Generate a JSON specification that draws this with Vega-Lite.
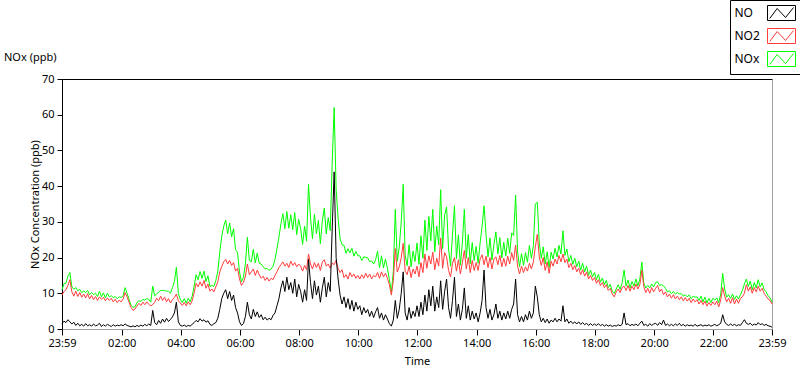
{
  "$schema": "https://vega.github.io/schema/vega-lite/v6.json",
  "width": 710,
  "height": 250,
  "autosize": {"type": "none"},
  "padding": {"left": 62, "top": 79, "right": 28, "bottom": 40},
  "background": "white",
  "config": {
    "font": "Noto Sans",
    "view": {"stroke": "black", "strokeWidth": 1}
  },
  "title": {
    "text": "NOx (ppb)",
    "anchor": "start",
    "frame": "group",
    "dx": -58,
    "dy": 63,
    "offset": 0,
    "fontSize": 11,
    "fontWeight": "normal",
    "color": "black",
    "font": "Noto Sans"
  },
  "data": {
    "values": [
{"t":0,"NO":1.5,"NO2":9.5,"NOx":11.0},{"t":4,"NO":2.2,"NO2":10.5,"NOx":12.7},{"t":8,"NO":1.8,"NO2":11.0,"NOx":12.8},{"t":12,"NO":2.6,"NO2":12.2,"NOx":14.8},{"t":16,"NO":2.0,"NO2":13.8,"NOx":15.8},{"t":20,"NO":1.4,"NO2":10.4,"NOx":11.8},{"t":24,"NO":1.9,"NO2":9.2,"NOx":11.1},{"t":28,"NO":1.0,"NO2":10.6,"NOx":11.6},{"t":32,"NO":1.6,"NO2":9.1,"NOx":10.7},{"t":36,"NO":0.9,"NO2":10.2,"NOx":11.1},{"t":40,"NO":1.3,"NO2":8.9,"NOx":10.2},{"t":44,"NO":0.8,"NO2":9.8,"NOx":10.6},{"t":48,"NO":1.5,"NO2":8.7,"NOx":10.2},{"t":52,"NO":0.9,"NO2":9.9,"NOx":10.8},{"t":56,"NO":1.2,"NO2":8.4,"NOx":9.6},{"t":60,"NO":0.8,"NO2":9.4,"NOx":10.2},{"t":64,"NO":1.4,"NO2":8.2,"NOx":9.6},{"t":68,"NO":0.9,"NO2":9.1,"NOx":10.0},{"t":72,"NO":1.1,"NO2":8.0,"NOx":9.1},{"t":76,"NO":1.6,"NO2":9.0,"NOx":10.6},{"t":80,"NO":0.7,"NO2":8.3,"NOx":9.0},{"t":84,"NO":1.2,"NO2":8.9,"NOx":10.1},{"t":88,"NO":0.8,"NO2":7.9,"NOx":8.7},{"t":92,"NO":1.3,"NO2":8.7,"NOx":10.0},{"t":96,"NO":1.0,"NO2":8.0,"NOx":9.0},{"t":100,"NO":0.7,"NO2":8.6,"NOx":9.3},{"t":104,"NO":1.2,"NO2":7.6,"NOx":8.8},{"t":108,"NO":0.8,"NO2":8.3,"NOx":9.1},{"t":112,"NO":1.1,"NO2":7.4,"NOx":8.5},{"t":116,"NO":0.9,"NO2":8.1,"NOx":9.0},{"t":120,"NO":1.2,"NO2":7.6,"NOx":8.8},
{"t":124,"NO":0.9,"NO2":8.4,"NOx":9.3},{"t":128,"NO":1.4,"NO2":10.2,"NOx":11.6},{"t":132,"NO":1.0,"NO2":9.0,"NOx":10.0},{"t":136,"NO":0.8,"NO2":7.5,"NOx":8.3},{"t":140,"NO":0.6,"NO2":6.0,"NOx":6.6},{"t":144,"NO":0.9,"NO2":5.2,"NOx":6.1},{"t":148,"NO":0.6,"NO2":5.6,"NOx":6.2},{"t":152,"NO":1.0,"NO2":6.4,"NOx":7.4},{"t":156,"NO":0.7,"NO2":7.2,"NOx":7.9},{"t":160,"NO":1.1,"NO2":6.6,"NOx":7.7},{"t":164,"NO":0.8,"NO2":7.5,"NOx":8.3},{"t":168,"NO":1.3,"NO2":6.8,"NOx":8.1},{"t":172,"NO":0.9,"NO2":7.6,"NOx":8.5},{"t":176,"NO":1.4,"NO2":6.9,"NOx":8.3},{"t":180,"NO":1.0,"NO2":6.5,"NOx":7.5},{"t":184,"NO":5.2,"NO2":6.8,"NOx":12.0},{"t":188,"NO":1.8,"NO2":7.5,"NOx":9.3},{"t":192,"NO":1.2,"NO2":8.6,"NOx":9.8},{"t":196,"NO":2.4,"NO2":7.9,"NOx":10.3},{"t":200,"NO":1.6,"NO2":9.2,"NOx":10.8},{"t":204,"NO":2.8,"NO2":8.0,"NOx":10.8},{"t":208,"NO":1.9,"NO2":8.9,"NOx":10.8},{"t":212,"NO":3.0,"NO2":7.6,"NOx":10.6},{"t":216,"NO":2.1,"NO2":8.5,"NOx":10.6},{"t":220,"NO":2.7,"NO2":7.3,"NOx":10.0},{"t":224,"NO":3.4,"NO2":8.2,"NOx":11.6},{"t":228,"NO":4.5,"NO2":8.8,"NOx":13.3},{"t":232,"NO":7.5,"NO2":9.8,"NOx":17.3},{"t":236,"NO":2.0,"NO2":7.9,"NOx":9.9},{"t":240,"NO":1.0,"NO2":7.3,"NOx":8.3},
{"t":244,"NO":0.8,"NO2":6.6,"NOx":7.4},{"t":248,"NO":1.1,"NO2":7.4,"NOx":8.5},{"t":252,"NO":0.7,"NO2":6.5,"NOx":7.2},{"t":256,"NO":1.0,"NO2":7.6,"NOx":8.6},{"t":260,"NO":0.8,"NO2":6.8,"NOx":7.6},{"t":264,"NO":1.3,"NO2":7.9,"NOx":9.2},{"t":268,"NO":1.8,"NO2":10.2,"NOx":12.0},{"t":272,"NO":2.4,"NO2":12.8,"NOx":15.2},{"t":276,"NO":2.0,"NO2":11.8,"NOx":13.8},{"t":280,"NO":2.9,"NO2":13.2,"NOx":16.1},{"t":284,"NO":2.2,"NO2":12.0,"NOx":14.2},{"t":288,"NO":2.6,"NO2":13.6,"NOx":16.2},{"t":292,"NO":1.9,"NO2":11.4,"NOx":13.3},{"t":296,"NO":2.3,"NO2":12.6,"NOx":14.9},{"t":300,"NO":1.3,"NO2":10.6,"NOx":11.9},{"t":304,"NO":1.0,"NO2":11.2,"NOx":12.2},{"t":308,"NO":1.5,"NO2":10.4,"NOx":11.9},{"t":312,"NO":1.8,"NO2":11.8,"NOx":13.6},{"t":316,"NO":3.0,"NO2":13.2,"NOx":16.2},{"t":320,"NO":5.5,"NO2":16.0,"NOx":21.5},{"t":324,"NO":8.5,"NO2":17.5,"NOx":26.0},{"t":328,"NO":10.0,"NO2":18.8,"NOx":28.8},{"t":332,"NO":11.0,"NO2":19.5,"NOx":30.5},{"t":336,"NO":8.5,"NO2":18.2,"NOx":26.7},{"t":340,"NO":10.5,"NO2":19.2,"NOx":29.7},{"t":344,"NO":8.0,"NO2":17.8,"NOx":25.8},{"t":348,"NO":9.5,"NO2":18.6,"NOx":28.1},{"t":352,"NO":6.0,"NO2":16.2,"NOx":22.2},{"t":356,"NO":4.5,"NO2":17.0,"NOx":21.5},{"t":360,"NO":2.0,"NO2":14.0,"NOx":16.0},
{"t":364,"NO":1.0,"NO2":12.2,"NOx":13.2},{"t":368,"NO":1.5,"NO2":13.0,"NOx":14.5},{"t":372,"NO":3.5,"NO2":14.8,"NOx":18.3},{"t":376,"NO":7.5,"NO2":18.2,"NOx":25.7},{"t":380,"NO":4.0,"NO2":15.2,"NOx":19.2},{"t":384,"NO":2.8,"NO2":16.0,"NOx":18.8},{"t":388,"NO":5.5,"NO2":16.8,"NOx":22.3},{"t":392,"NO":3.5,"NO2":15.0,"NOx":18.5},{"t":396,"NO":4.8,"NO2":16.5,"NOx":21.3},{"t":400,"NO":3.2,"NO2":15.2,"NOx":18.4},{"t":404,"NO":4.0,"NO2":14.2,"NOx":18.2},{"t":408,"NO":2.6,"NO2":14.8,"NOx":17.4},{"t":412,"NO":3.3,"NO2":13.6,"NOx":16.9},{"t":416,"NO":2.5,"NO2":14.4,"NOx":16.9},{"t":420,"NO":3.0,"NO2":13.4,"NOx":16.4},{"t":424,"NO":2.6,"NO2":14.2,"NOx":16.8},{"t":428,"NO":3.8,"NO2":13.8,"NOx":17.6},{"t":432,"NO":4.5,"NO2":15.0,"NOx":19.5},{"t":436,"NO":6.5,"NO2":16.0,"NOx":22.5},{"t":440,"NO":8.5,"NO2":17.2,"NOx":25.7},{"t":444,"NO":11.5,"NO2":18.0,"NOx":29.5},{"t":448,"NO":13.5,"NO2":18.8,"NOx":32.3},{"t":452,"NO":10.5,"NO2":17.6,"NOx":28.1},{"t":456,"NO":14.5,"NO2":18.4,"NOx":32.9},{"t":460,"NO":11.0,"NO2":17.2,"NOx":28.2},{"t":464,"NO":13.0,"NO2":19.0,"NOx":32.0},{"t":468,"NO":10.0,"NO2":17.8,"NOx":27.8},{"t":472,"NO":14.0,"NO2":18.6,"NOx":32.6},{"t":476,"NO":9.0,"NO2":17.4,"NOx":26.4},{"t":480,"NO":12.5,"NO2":18.2,"NOx":30.7},
{"t":484,"NO":10.5,"NO2":17.6,"NOx":28.1},{"t":488,"NO":7.5,"NO2":16.2,"NOx":23.7},{"t":492,"NO":11.0,"NO2":17.8,"NOx":28.8},{"t":496,"NO":8.0,"NO2":16.6,"NOx":24.6},{"t":500,"NO":19.5,"NO2":21.0,"NOx":40.5},{"t":504,"NO":13.0,"NO2":18.2,"NOx":31.2},{"t":508,"NO":8.5,"NO2":16.8,"NOx":25.3},{"t":512,"NO":13.5,"NO2":18.6,"NOx":32.1},{"t":516,"NO":9.5,"NO2":17.2,"NOx":26.7},{"t":520,"NO":12.0,"NO2":18.4,"NOx":30.4},{"t":524,"NO":7.5,"NO2":16.4,"NOx":23.9},{"t":528,"NO":11.5,"NO2":18.8,"NOx":30.3},{"t":532,"NO":14.5,"NO2":19.4,"NOx":33.9},{"t":536,"NO":9.0,"NO2":17.6,"NOx":26.6},{"t":540,"NO":13.0,"NO2":18.2,"NOx":31.2},{"t":544,"NO":10.5,"NO2":17.0,"NOx":27.5},{"t":548,"NO":28.0,"NO2":18.5,"NOx":46.5},{"t":552,"NO":44.0,"NO2":18.0,"NOx":62.0},{"t":556,"NO":20.0,"NO2":19.2,"NOx":39.2},{"t":560,"NO":14.0,"NO2":17.0,"NOx":31.0},{"t":564,"NO":9.5,"NO2":15.8,"NOx":25.3},{"t":568,"NO":7.0,"NO2":16.6,"NOx":23.6},{"t":572,"NO":9.0,"NO2":14.4,"NOx":23.4},{"t":576,"NO":6.0,"NO2":15.2,"NOx":21.2},{"t":580,"NO":8.5,"NO2":14.0,"NOx":22.5},{"t":584,"NO":5.5,"NO2":15.8,"NOx":21.3},{"t":588,"NO":8.0,"NO2":14.6,"NOx":22.6},{"t":592,"NO":5.0,"NO2":15.4,"NOx":20.4},{"t":596,"NO":7.5,"NO2":14.2,"NOx":21.7},{"t":600,"NO":5.5,"NO2":15.0,"NOx":20.5},
{"t":604,"NO":6.5,"NO2":14.0,"NOx":20.5},{"t":608,"NO":4.0,"NO2":15.2,"NOx":19.2},{"t":612,"NO":6.0,"NO2":14.2,"NOx":20.2},{"t":616,"NO":4.5,"NO2":15.6,"NOx":20.1},{"t":620,"NO":5.5,"NO2":14.4,"NOx":19.9},{"t":624,"NO":3.5,"NO2":15.4,"NOx":18.9},{"t":628,"NO":5.0,"NO2":14.0,"NOx":19.0},{"t":632,"NO":3.2,"NO2":15.0,"NOx":18.2},{"t":636,"NO":4.8,"NO2":14.6,"NOx":19.4},{"t":640,"NO":6.0,"NO2":15.8,"NOx":21.8},{"t":644,"NO":3.0,"NO2":14.2,"NOx":17.2},{"t":648,"NO":4.5,"NO2":16.0,"NOx":20.5},{"t":652,"NO":2.5,"NO2":14.6,"NOx":17.1},{"t":656,"NO":4.0,"NO2":15.6,"NOx":19.6},{"t":660,"NO":2.8,"NO2":14.2,"NOx":17.0},{"t":664,"NO":1.5,"NO2":12.4,"NOx":13.9},{"t":668,"NO":0.8,"NO2":9.5,"NOx":10.3},{"t":672,"NO":2.5,"NO2":13.6,"NOx":16.1},{"t":676,"NO":8.0,"NO2":22.5,"NOx":33.5},{"t":680,"NO":3.0,"NO2":16.0,"NOx":19.0},{"t":684,"NO":5.5,"NO2":17.4,"NOx":22.9},{"t":688,"NO":10.0,"NO2":20.0,"NOx":30.0},{"t":692,"NO":16.0,"NO2":24.0,"NOx":40.5},{"t":696,"NO":4.5,"NO2":16.2,"NOx":20.7},{"t":700,"NO":2.5,"NO2":15.2,"NOx":17.7},{"t":704,"NO":6.0,"NO2":17.6,"NOx":23.6},{"t":708,"NO":3.0,"NO2":14.4,"NOx":17.4},{"t":712,"NO":5.0,"NO2":16.8,"NOx":21.8},{"t":716,"NO":3.5,"NO2":15.4,"NOx":18.9},{"t":720,"NO":6.5,"NO2":17.6,"NOx":24.1},
{"t":724,"NO":3.5,"NO2":14.6,"NOx":18.1},{"t":728,"NO":7.5,"NO2":18.6,"NOx":26.1},{"t":732,"NO":4.0,"NO2":15.8,"NOx":19.8},{"t":736,"NO":9.5,"NO2":21.0,"NOx":30.5},{"t":740,"NO":5.0,"NO2":17.0,"NOx":22.0},{"t":744,"NO":11.0,"NO2":20.5,"NOx":31.5},{"t":748,"NO":6.5,"NO2":18.2,"NOx":24.7},{"t":752,"NO":12.0,"NO2":21.5,"NOx":33.5},{"t":756,"NO":5.0,"NO2":16.6,"NOx":21.6},{"t":760,"NO":9.0,"NO2":19.8,"NOx":28.8},{"t":764,"NO":6.0,"NO2":17.6,"NOx":23.6},{"t":768,"NO":13.5,"NO2":25.5,"NOx":39.0},{"t":772,"NO":5.5,"NO2":17.0,"NOx":22.5},{"t":776,"NO":10.5,"NO2":21.4,"NOx":31.9},{"t":780,"NO":14.0,"NO2":20.2,"NOx":34.2},{"t":784,"NO":6.0,"NO2":16.4,"NOx":22.4},{"t":788,"NO":3.0,"NO2":14.6,"NOx":17.6},{"t":792,"NO":8.0,"NO2":18.4,"NOx":26.4},{"t":796,"NO":14.5,"NO2":20.0,"NOx":34.5},{"t":800,"NO":3.5,"NO2":16.2,"NOx":19.7},{"t":804,"NO":7.0,"NO2":19.4,"NOx":26.4},{"t":808,"NO":2.5,"NO2":15.4,"NOx":17.9},{"t":812,"NO":5.5,"NO2":18.6,"NOx":24.1},{"t":816,"NO":11.5,"NO2":22.0,"NOx":33.5},{"t":820,"NO":3.0,"NO2":16.8,"NOx":19.8},{"t":824,"NO":6.5,"NO2":20.0,"NOx":26.5},{"t":828,"NO":2.5,"NO2":15.8,"NOx":18.3},{"t":832,"NO":5.0,"NO2":19.2,"NOx":24.2},{"t":836,"NO":2.8,"NO2":16.4,"NOx":19.2},{"t":840,"NO":4.5,"NO2":18.6,"NOx":23.1},
{"t":844,"NO":2.0,"NO2":16.4,"NOx":18.4},{"t":848,"NO":4.5,"NO2":19.6,"NOx":24.1},{"t":852,"NO":8.0,"NO2":20.8,"NOx":28.8},{"t":856,"NO":16.5,"NO2":18.0,"NOx":34.5},{"t":860,"NO":6.0,"NO2":20.4,"NOx":26.4},{"t":864,"NO":3.0,"NO2":17.2,"NOx":20.2},{"t":868,"NO":5.5,"NO2":20.0,"NOx":25.5},{"t":872,"NO":2.5,"NO2":16.8,"NOx":19.3},{"t":876,"NO":4.0,"NO2":19.6,"NOx":23.6},{"t":880,"NO":7.0,"NO2":20.2,"NOx":27.2},{"t":884,"NO":3.0,"NO2":18.0,"NOx":21.0},{"t":888,"NO":5.0,"NO2":20.6,"NOx":25.6},{"t":892,"NO":2.5,"NO2":17.4,"NOx":19.9},{"t":896,"NO":4.5,"NO2":19.8,"NOx":24.3},{"t":900,"NO":2.8,"NO2":17.6,"NOx":20.4},{"t":904,"NO":5.0,"NO2":20.4,"NOx":25.4},{"t":908,"NO":3.0,"NO2":18.2,"NOx":21.2},{"t":912,"NO":5.5,"NO2":21.4,"NOx":26.9},{"t":916,"NO":7.0,"NO2":19.2,"NOx":26.2},{"t":920,"NO":14.0,"NO2":23.5,"NOx":37.5},{"t":924,"NO":4.0,"NO2":17.6,"NOx":21.6},{"t":928,"NO":2.0,"NO2":15.4,"NOx":17.4},{"t":932,"NO":3.5,"NO2":17.6,"NOx":21.1},{"t":936,"NO":2.0,"NO2":15.8,"NOx":17.8},{"t":940,"NO":4.0,"NO2":17.4,"NOx":21.4},{"t":944,"NO":2.5,"NO2":16.2,"NOx":18.7},{"t":948,"NO":5.0,"NO2":18.4,"NOx":23.4},{"t":952,"NO":3.0,"NO2":16.8,"NOx":19.8},{"t":956,"NO":4.5,"NO2":18.8,"NOx":23.3},{"t":960,"NO":12.0,"NO2":23.0,"NOx":35.0},
{"t":964,"NO":9.0,"NO2":26.5,"NOx":35.5},{"t":968,"NO":4.0,"NO2":20.2,"NOx":24.2},{"t":972,"NO":2.0,"NO2":17.8,"NOx":19.8},{"t":976,"NO":3.0,"NO2":20.0,"NOx":23.0},{"t":980,"NO":1.8,"NO2":16.4,"NOx":18.2},{"t":984,"NO":2.8,"NO2":18.8,"NOx":21.6},{"t":988,"NO":1.6,"NO2":15.6,"NOx":17.2},{"t":992,"NO":2.5,"NO2":19.0,"NOx":21.5},{"t":996,"NO":2.0,"NO2":17.6,"NOx":19.6},{"t":1000,"NO":3.0,"NO2":19.6,"NOx":22.6},{"t":1004,"NO":2.0,"NO2":18.2,"NOx":20.2},{"t":1008,"NO":2.8,"NO2":20.6,"NOx":23.4},{"t":1012,"NO":2.2,"NO2":18.8,"NOx":21.0},{"t":1016,"NO":6.5,"NO2":21.0,"NOx":27.5},{"t":1020,"NO":2.0,"NO2":18.6,"NOx":20.6},{"t":1024,"NO":2.8,"NO2":19.6,"NOx":22.4},{"t":1028,"NO":1.6,"NO2":17.2,"NOx":18.8},{"t":1032,"NO":2.2,"NO2":18.4,"NOx":20.6},{"t":1036,"NO":1.5,"NO2":16.6,"NOx":18.1},{"t":1040,"NO":2.0,"NO2":17.8,"NOx":19.8},{"t":1044,"NO":1.4,"NO2":16.0,"NOx":17.4},{"t":1048,"NO":2.0,"NO2":17.0,"NOx":19.0},{"t":1052,"NO":1.3,"NO2":15.2,"NOx":16.5},{"t":1056,"NO":1.8,"NO2":16.6,"NOx":18.4},{"t":1060,"NO":1.2,"NO2":14.8,"NOx":16.0},{"t":1064,"NO":1.6,"NO2":16.0,"NOx":17.6},{"t":1068,"NO":1.0,"NO2":14.0,"NOx":15.0},{"t":1072,"NO":1.5,"NO2":15.0,"NOx":16.5},{"t":1076,"NO":1.0,"NO2":13.6,"NOx":14.6},{"t":1080,"NO":1.4,"NO2":14.4,"NOx":15.8},
{"t":1084,"NO":1.0,"NO2":12.8,"NOx":13.8},{"t":1088,"NO":1.5,"NO2":13.8,"NOx":15.3},{"t":1092,"NO":0.9,"NO2":12.2,"NOx":13.1},{"t":1096,"NO":1.3,"NO2":13.0,"NOx":14.3},{"t":1100,"NO":0.8,"NO2":11.6,"NOx":12.4},{"t":1104,"NO":1.2,"NO2":12.4,"NOx":13.6},{"t":1108,"NO":0.8,"NO2":10.8,"NOx":11.6},{"t":1112,"NO":1.1,"NO2":11.4,"NOx":12.5},{"t":1116,"NO":0.7,"NO2":9.8,"NOx":10.5},{"t":1120,"NO":1.0,"NO2":9.0,"NOx":10.0},{"t":1124,"NO":0.8,"NO2":10.4,"NOx":11.2},{"t":1128,"NO":1.2,"NO2":11.2,"NOx":12.4},{"t":1132,"NO":0.9,"NO2":10.2,"NOx":11.1},{"t":1136,"NO":1.3,"NO2":11.6,"NOx":12.9},{"t":1140,"NO":4.5,"NO2":12.0,"NOx":16.5},{"t":1144,"NO":1.2,"NO2":10.8,"NOx":12.0},{"t":1148,"NO":1.5,"NO2":12.2,"NOx":13.7},{"t":1152,"NO":0.9,"NO2":10.6,"NOx":11.5},{"t":1156,"NO":1.3,"NO2":12.0,"NOx":13.3},{"t":1160,"NO":1.0,"NO2":11.0,"NOx":12.0},{"t":1164,"NO":1.4,"NO2":12.6,"NOx":14.0},{"t":1168,"NO":0.9,"NO2":11.2,"NOx":12.1},{"t":1172,"NO":1.6,"NO2":12.4,"NOx":14.0},{"t":1176,"NO":2.2,"NO2":16.5,"NOx":18.7},{"t":1180,"NO":1.0,"NO2":11.8,"NOx":12.8},{"t":1184,"NO":1.3,"NO2":10.2,"NOx":11.5},{"t":1188,"NO":0.8,"NO2":11.4,"NOx":12.2},{"t":1192,"NO":1.5,"NO2":10.0,"NOx":11.5},{"t":1196,"NO":1.0,"NO2":11.6,"NOx":12.6},{"t":1200,"NO":1.4,"NO2":10.4,"NOx":11.8},
{"t":1204,"NO":1.6,"NO2":11.4,"NOx":13.0},{"t":1208,"NO":1.0,"NO2":12.2,"NOx":13.2},{"t":1212,"NO":1.8,"NO2":10.4,"NOx":12.2},{"t":1216,"NO":1.2,"NO2":11.2,"NOx":12.4},{"t":1220,"NO":2.5,"NO2":9.6,"NOx":12.1},{"t":1224,"NO":1.0,"NO2":10.4,"NOx":11.4},{"t":1228,"NO":1.4,"NO2":9.0,"NOx":10.4},{"t":1232,"NO":0.9,"NO2":9.8,"NOx":10.7},{"t":1236,"NO":1.3,"NO2":8.6,"NOx":9.9},{"t":1240,"NO":0.9,"NO2":9.6,"NOx":10.5},{"t":1244,"NO":1.4,"NO2":8.4,"NOx":9.8},{"t":1248,"NO":1.0,"NO2":9.2,"NOx":10.2},{"t":1252,"NO":1.6,"NO2":8.2,"NOx":9.8},{"t":1256,"NO":0.9,"NO2":9.0,"NOx":9.9},{"t":1260,"NO":1.3,"NO2":7.9,"NOx":9.2},{"t":1264,"NO":0.8,"NO2":8.8,"NOx":9.6},{"t":1268,"NO":1.2,"NO2":7.8,"NOx":9.0},{"t":1272,"NO":0.9,"NO2":8.6,"NOx":9.5},{"t":1276,"NO":1.1,"NO2":7.4,"NOx":8.5},{"t":1280,"NO":0.8,"NO2":8.4,"NOx":9.2},{"t":1284,"NO":1.3,"NO2":7.6,"NOx":8.9},{"t":1288,"NO":0.8,"NO2":8.2,"NOx":9.0},{"t":1292,"NO":1.0,"NO2":7.0,"NOx":8.0},{"t":1296,"NO":1.2,"NO2":8.0,"NOx":9.2},{"t":1300,"NO":0.8,"NO2":6.8,"NOx":7.6},{"t":1304,"NO":1.1,"NO2":7.8,"NOx":8.9},{"t":1308,"NO":0.9,"NO2":6.4,"NOx":7.3},{"t":1312,"NO":1.2,"NO2":7.4,"NOx":8.6},{"t":1316,"NO":0.8,"NO2":6.6,"NOx":7.4},{"t":1320,"NO":1.0,"NO2":7.6,"NOx":8.6},
{"t":1324,"NO":1.3,"NO2":6.8,"NOx":8.1},{"t":1328,"NO":0.9,"NO2":7.8,"NOx":8.7},{"t":1332,"NO":1.2,"NO2":6.2,"NOx":7.4},{"t":1336,"NO":1.6,"NO2":8.2,"NOx":9.8},{"t":1340,"NO":4.0,"NO2":11.6,"NOx":15.6},{"t":1344,"NO":2.0,"NO2":9.2,"NOx":11.2},{"t":1348,"NO":1.3,"NO2":7.6,"NOx":8.9},{"t":1352,"NO":1.0,"NO2":8.6,"NOx":9.6},{"t":1356,"NO":1.4,"NO2":7.2,"NOx":8.6},{"t":1360,"NO":1.0,"NO2":8.8,"NOx":9.8},{"t":1364,"NO":1.3,"NO2":7.0,"NOx":8.3},{"t":1368,"NO":0.9,"NO2":8.4,"NOx":9.3},{"t":1372,"NO":1.2,"NO2":7.2,"NOx":8.4},{"t":1376,"NO":1.0,"NO2":8.6,"NOx":9.6},{"t":1380,"NO":1.8,"NO2":9.0,"NOx":10.8},{"t":1384,"NO":2.6,"NO2":10.0,"NOx":12.6},{"t":1388,"NO":1.6,"NO2":12.4,"NOx":14.0},{"t":1392,"NO":1.3,"NO2":10.6,"NOx":11.9},{"t":1396,"NO":1.6,"NO2":11.8,"NOx":13.4},{"t":1400,"NO":1.0,"NO2":10.0,"NOx":11.0},{"t":1404,"NO":1.4,"NO2":11.6,"NOx":13.0},{"t":1408,"NO":1.1,"NO2":10.4,"NOx":11.5},{"t":1412,"NO":1.8,"NO2":12.0,"NOx":13.8},{"t":1416,"NO":1.2,"NO2":10.6,"NOx":11.8},{"t":1420,"NO":1.5,"NO2":11.4,"NOx":12.9},{"t":1424,"NO":1.0,"NO2":10.0,"NOx":11.0},{"t":1428,"NO":1.3,"NO2":9.2,"NOx":10.5},{"t":1432,"NO":0.9,"NO2":8.4,"NOx":9.3},{"t":1436,"NO":0.8,"NO2":8.0,"NOx":8.8},{"t":1440,"NO":0.5,"NO2":7.0,"NOx":7.5}
    ]
  },
  "transform": [{"fold": ["NOx", "NO2", "NO"], "as": ["series", "value"]}],
  "layer": [
    {
      "mark": {"type": "line", "strokeWidth": 1, "interpolate": "linear"},
      "encoding": {
        "x": {
          "field": "t",
          "type": "quantitative",
          "scale": {"domain": [0, 1440], "nice": false, "zero": false},
          "axis": {
            "values": [0,16,31,46,61,76,91,106,121,136,151,166,181,196,211,226,241,256,271,286,301,316,331,346,361,376,391,406,421,436,451,466,481,496,511,526,541,556,571,586,601,616,631,646,661,676,691,706,721,736,751,766,781,796,811,826,841,856,871,886,901,916,931,946,961,976,991,1006,1021,1036,1051,1066,1081,1096,1111,1126,1141,1156,1171,1186,1201,1216,1231,1246,1261,1276,1291,1306,1321,1336,1351,1366,1381,1396,1411,1426,1440],
            "labelExpr": "datum.value == 0 || datum.value == 1440 ? '23:59' : ((datum.value - 1) % 120 == 0 ? pad(toString((datum.value - 1) / 60), 2, '0', 'left') + ':00' : '')",
            "labelOverlap": false,
            "labelFlush": false,
            "tickSize": {"condition": {"test": "datum.value == 0 || datum.value == 1440 || (datum.value - 1) % 120 == 0", "value": 6}, "value": 3},
            "tickColor": "black",
            "domainColor": "#a0a0a0",
            "labelColor": "black",
            "labelFontSize": 11,
            "labelPadding": 2,
            "title": "Time",
            "titleFontSize": 11,
            "titleFontWeight": "normal",
            "titleColor": "black",
            "titlePadding": 7,
            "grid": false
          }
        },
        "y": {
          "field": "value",
          "type": "quantitative",
          "scale": {"domain": [0, 70], "nice": false},
          "axis": {
            "values": [0, 10, 20, 30, 40, 50, 60, 70],
            "tickSize": 5,
            "tickColor": "black",
            "domainColor": "black",
            "labelColor": "black",
            "labelFontSize": 11,
            "labelPadding": 3,
            "title": "NOx Concentration (ppb)",
            "titleFontSize": 11,
            "titleFontWeight": "normal",
            "titleColor": "black",
            "titlePadding": 1,
            "grid": false
          }
        },
        "color": {
          "field": "series",
          "type": "nominal",
          "scale": {"domain": ["NO", "NO2", "NOx"], "range": ["#000000", "#ff3c3c", "#00ff00"]},
          "legend": {
            "title": null,
            "orient": "none",
            "legendX": 668,
            "legendY": -79,
            "padding": 5,
            "strokeColor": "black",
            "fillColor": "white",
            "cornerRadius": 0,
            "symbolType": "M-1.867,-1H1.867V1H-1.867Z M-1.57,0.73L-0.58,-0.6L0.54,0.6L1.6,-0.73",
            "symbolSize": 225,
            "symbolStrokeWidth": 1,
            "symbolFillColor": "white",
            "symbolOffset": 38.5,
            "labelOffset": -55,
            "labelFontSize": 12,
            "labelColor": "black",
            "rowPadding": 3
          }
        }
      }
    },
    {
      "mark": {"type": "line", "opacity": 0},
      "encoding": {
        "x": {"field": "t", "type": "quantitative"},
        "y": {
          "field": "value",
          "type": "quantitative",
          "axis": {"orient": "right", "labels": false, "ticks": false, "domainColor": "#a0a0a0", "title": null, "grid": false}
        }
      }
    }
  ],
  "resolve": {"axis": {"y": "independent"}}
}
